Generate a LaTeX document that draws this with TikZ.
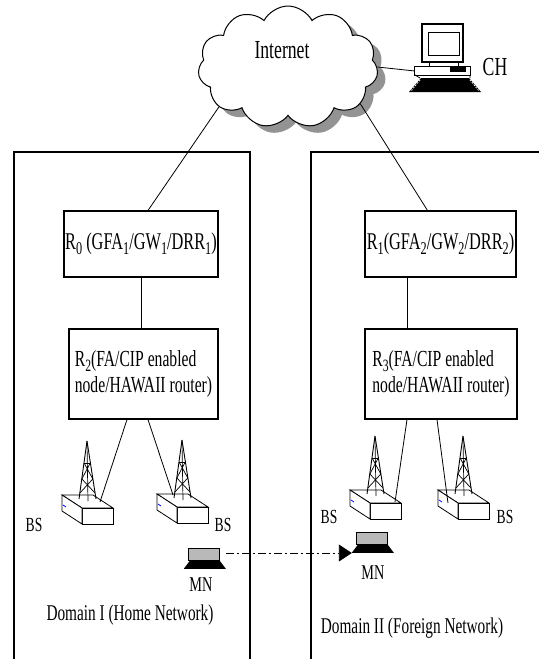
\documentclass[tikz,border=0pt]{standalone}
\usepackage{fontspec}
\usepackage{graphicx}
\setmainfont{Liberation Serif}[FakeStretch=0.68]
\usetikzlibrary{shapes.symbols,shadows,arrows.meta,calc}
\newcommand\sbs[1]{\raisebox{-0.2em}{\scalebox{0.75}{#1}}}
\tikzset{
  thinline/.style={line width=0.8pt},
  domline/.style={line width=1.2pt},
  router/.style={draw, line width=1.1pt, inner sep=0pt, fill=white,
     font=\fontsize{24}{25}\selectfont},
  router2/.style={router, font=\fontsize{23}{26}\selectfont},
  lbl/.style={inner sep=0pt, font=\fontsize{21}{22}\selectfont},
  bslbl/.style={inner sep=0pt, font=\fontsize{20}{21}\selectfont},
  domlbl/.style={inner sep=0pt, font=\fontsize{22.5}{23}\selectfont},
  laptopbox/.style={inner sep=0pt, minimum width=42pt, minimum height=22pt},
  mover/.style={line width=0.9pt, dash pattern=on 8pt off 3pt on 2pt off 3pt,
     -{Triangle[length=13pt,width=17pt]}},
  pics/tower/.style={code={
    % box
    \draw[line width=0.8pt, fill=white] (-25,52) -- (6,52) -- (26,65) -- (-5,65) -- cycle;
    \draw[line width=0.8pt, fill=white] (-5,65) rectangle (26,81);
    \draw[line width=0.8pt, fill=white] (-25,52) -- (-5,65) -- (-5,81) -- (-25,68) -- cycle;
    \draw[blue, line width=0.8pt] (-24,62) -- (-21,64);
    % lattice tower
    \draw[line width=0.9pt] (0,-2) -- (-8,56);
    \draw[line width=0.9pt] (0,-2) -- (9,56);
    \draw[line width=0.7pt] (0,0) -- (1,58);
    \draw[line width=0.7pt] (-2.9,20) -- (3.2,20);
    \draw[line width=0.7pt] (-2.9,20) -- (5.8,36) (3.2,20) -- (-5.1,36);
    \draw[line width=0.7pt] (-5.1,36) -- (8,50) (5.8,36) -- (-7.1,50);
  }},
  pics/laptop/.style={code={
    \draw[line width=1.3pt, fill=gray!55] (5,0.7) rectangle (36,13);
    \fill (6,13) -- (36,13) -- (42,21) -- (0,21) -- cycle;
  }}
}
\begin{document}
\begin{tikzpicture}[x=1pt,y=-1pt]
\useasboundingbox (0,0) rectangle (539,659);

% domains
\draw[domline] (14,659) -- (14,152) -- (250,152) -- (250,659);
\draw[domline] (311,659) -- (311,152) -- (539,152);

% cloud
\node[cloud, cloud puffs=11, cloud puff arc=125, aspect=1.5, draw, line width=1pt,
      fill=white, minimum width=180pt, minimum height=122pt,
      drop shadow={shadow xshift=8pt, shadow yshift=-7pt, fill=gray!85, opacity=1}]
      (inet) at (288,67) {};
\node[inner sep=0pt, font=\fontsize{26}{27}\selectfont] (inettxt) at (282,50) {Internet};

% computer CH
\node[inner sep=0pt, minimum width=55pt, minimum height=9pt] (pc) at (442.5,71) {};
\draw[line width=1.3pt, fill=white] (422,24) rectangle (463,62);
\draw[line width=1pt] (428,32) rectangle (459,55);
\draw[line width=1pt] (429,62) -- (429,67) (458,62) -- (458,67);
\draw[line width=1pt] (pc.north west) rectangle (pc.south east);
\fill (450,67) rectangle (466,72);
\fill (421,78) -- (469,78) -- (481,92) -- (409,92) -- cycle;
\draw[white, line width=0.8pt, dash pattern=on 1.5pt off 1.5pt] (420,80) -- (411,91) (470,80) -- (479,91);
\draw[line width=0.8pt] (415,75) -- (420,78) (470,75) -- (470,78);
\node[inner sep=0pt, font=\fontsize{26}{27}\selectfont] (ch) at (495,67) {CH};
\draw[thinline] (inet.east) -- (pc.west);

% routers
\node[router, minimum width=154pt, minimum height=66pt] (r0) at (141,244)
  {R\sbs{0} (GFA\sbs{1}/GW\sbs{1}/DRR\sbs{1})};
\node[router, minimum width=151pt, minimum height=66pt] (r1) at (440.5,244)
  {R\sbs{1}(GFA\sbs{2}/GW\sbs{2}/DRR\sbs{2})};
\node[router2, minimum width=149pt, minimum height=90pt, align=left] (r2) at (143.5,374)
  {R\sbs{2}(FA/CIP enabled\\node/HAWAII router)};
\node[router2, minimum width=152pt, minimum height=90pt, align=left] (r3) at (441,374)
  {R\sbs{3}(FA/CIP enabled\\node/HAWAII router)};

\draw[thinline] (inet.210) -- ([xshift=7pt]r0.north);
\draw[thinline] (inet.333) -- ([xshift=-13pt]r1.north);
\draw[thinline] (r0.south) -- (r0.south |- r2.north);
\draw[thinline] (r1.south -| 407,0) -- (r3.north -| 407,0);

% base stations
\coordinate (t1) at (87,443);
\coordinate (t2) at (182,442);
\coordinate (t3) at (375,438);
\coordinate (t4) at (463,438);
\pic at (t1) {tower};
\pic at (t2) {tower};
\pic at (t3) {tower};
\pic at (t4) {tower};
\coordinate (bs1) at ([shift={(13,59)}]t1);
\coordinate (bs2) at ([shift={(-9,53)}]t2);
\coordinate (bs3) at ([shift={(20,64)}]t3);
\coordinate (bs4) at ([shift={(-15,65)}]t4);
\draw[thinline] ([xshift=-16.5pt]r2.south) -- (bs1);
\draw[thinline] ([xshift=4.5pt]r2.south) -- (bs2);
\draw[thinline] ([xshift=-34pt]r3.south) -- (bs3);
\draw[thinline] ([xshift=-4pt]r3.south) -- (bs4);

\node[bslbl] (bsl1) at (34,525) {BS};
\node[bslbl] (bsl2) at (223,525) {BS};
\node[bslbl] (bsl3) at (329,517) {BS};
\node[bslbl] (bsl4) at (505,517) {BS};

% mobile nodes
\node[laptopbox] (mn1) at (205,559) {};
\pic at (mn1.north west) {laptop};
\node[laptopbox] (mn2) at (373,543) {};
\pic at (mn2.north west) {laptop};
\node[lbl] (mnl1) at (201,585) {MN};
\node[lbl] (mnl2) at (373,573) {MN};
\draw[mover] ([yshift=6pt]mn1.east) -- ([yshift=6pt]mn1.east -| mn2.west);

% domain labels
\node[domlbl] (dom1) at (130,615) {Domain I (Home Network)};
\node[domlbl] (dom2) at (412,628) {Domain II (Foreign Network)};
\end{tikzpicture}
\end{document}
